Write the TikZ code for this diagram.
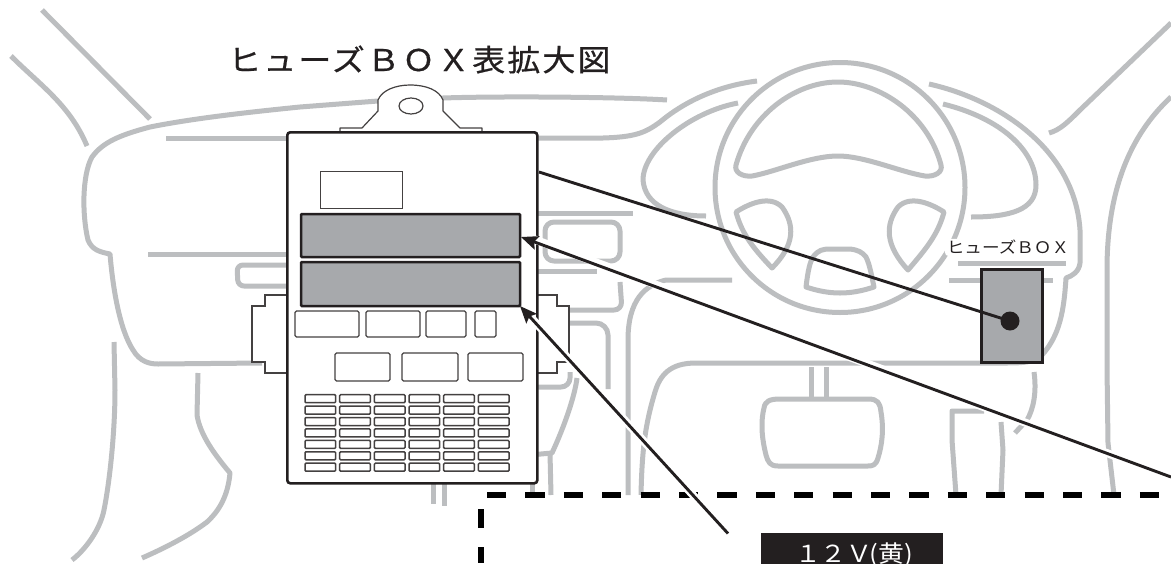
\documentclass[tikz,border=0pt]{standalone}
\usepackage{fontspec}
\usetikzlibrary{arrows.meta}
\newfontfamily\jpwide[FakeStretch=1.1,LetterSpace=7,FakeBold=0.6]{Noto Sans CJK JP}
\newfontfamily\jplabel[FakeStretch=1.1]{Noto Sans CJK JP}
\definecolor{ink}{HTML}{231F20}
\definecolor{dash}{HTML}{BCBEC0}
\definecolor{panel}{HTML}{A7A9AC}
\tikzset{
  x=1pt,y=-1pt,
  car/.style={draw=dash,line width=5pt,line join=round},
  outer/.style={draw=ink,line width=2.6pt,rounded corners=3pt,fill=white},
  thin/.style={draw=ink!85,line width=1.2pt,fill=white},
  slot/.style={draw=ink!85,line width=1.3pt,rounded corners=1.5pt,fill=white},
  mini/.style={draw=ink!85,line width=1.5pt,rounded corners=1pt,fill=white},
  fusepanel/.style={draw=ink,line width=2.5pt,rounded corners=1pt,fill=panel,inner sep=0pt,outer sep=0pt,anchor=north west},
  halo/.style={draw=white,line width=8pt},
  pointer/.style={draw=ink,line width=2.9pt},
  tipped/.style={pointer,{Stealth[length=17pt,width=14pt,inset=3pt]}-},
  blackdash/.style={draw=black,line width=5.4pt,dash pattern=on 19.2pt off 19.2pt},
}
\begin{document}
\begin{tikzpicture}
\useasboundingbox (0,0) rectangle (1171,563);
\clip (0,0) rectangle (1171,563);
\fill[white] (0,0) rectangle (1171,563);
% --- car interior
\draw[car] (42,10) -- (150,119);
\draw[car] (11,56) .. controls (40,85) and (70,105) .. (87,146);
\draw[car] (667,100) .. controls (620,97) and (500,96) .. (443,98) -- (378,101) -- (300,107) .. controls (240,113) and (190,119) .. (150,127) .. controls (120,135) and (103,142) .. (92,157) .. controls (82,175) and (82,215) .. (88,240) .. controls (92,250) and (100,252) .. (110,254) .. controls (113,290) and (120,330) .. (133,350) .. controls (140,362) and (150,364) .. (158,364) -- (262,363);
\draw[car] (166,138) -- (290,138);
\draw[car] (148,254) -- (290,254);
\draw[car,rounded corners=6pt] (300,265) -- (237,265) -- (238,286) -- (300,286);
\draw[car] (114,342) -- (115,390) .. controls (115,430) and (110,480) .. (104,510) .. controls (100,530) and (85,550) .. (72,560);
\draw[car] (198,373) -- (197,415) .. controls (200,435) and (215,455) .. (230,473) .. controls (228,495) and (220,510) .. (207,522) .. controls (190,535) and (165,548) .. (142,558);
\draw[car] (530,138) -- (603,138) .. controls (635,137) and (645,133) .. (660,122) .. controls (690,97) and (725,85) .. (757,81);
\draw[car] (738,103) .. controls (690,112) and (643,150) .. (643,180) .. controls (645,205) and (670,216) .. (706,216);
\draw[car] (929,84) .. controls (1000,100) and (1075,150) .. (1080,230) -- (1080,263) .. controls (1079,272) and (1072,276) .. (1066,278) .. controls (1064,310) and (1060,335) .. (1042,355) .. controls (1035,362) and (1025,363) .. (1006,363) -- (696,363) .. controls (670,363) and (660,375) .. (655,392) .. controls (645,425) and (642,450) .. (641,495);
\draw[car] (943,104) .. controls (1000,118) and (1036,150) .. (1036,185) .. controls (1036,210) and (1010,217) .. (971,217);
\draw[car] (1171,23) -- (1080,110) .. controls (1068,122) and (1060,130) .. (1049,133);
\draw[car] (1171,97) .. controls (1130,135) and (1107,190) .. (1107,270) -- (1107,367) -- (1108,443) -- (1114,495);
% steering wheel
\draw[car] (840,187.5) circle (125pt);
\draw[car] (736,165) .. controls (750,115) and (795,82) .. (838,82) .. controls (880,82) and (928,115) .. (941,165) .. controls (943,172) and (935,177) .. (925,176) .. controls (900,172) and (865,156) .. (838,156) .. controls (810,156) and (775,172) .. (752,176) .. controls (742,177) and (734,172) .. cycle;
\draw[car] (736,212) .. controls (750,203) and (770,195) .. (782,207) .. controls (795,225) and (795,245) .. (772,268) .. controls (755,250) and (742,235) .. cycle;
\draw[car] (944,212) .. controls (930,203) and (910,195) .. (898,207) .. controls (885,225) and (885,245) .. (908,270) .. controls (925,250) and (938,235) .. cycle;
\draw[car] (806,287) .. controls (808,270) and (810,262) .. (813,257) .. controls (818,250) and (823,249) .. (830,249) -- (850,249) .. controls (858,250) and (862,252) .. (866,257) .. controls (870,265) and (872,278) .. (874,287) .. controls (850,295) and (830,295) .. cycle;
% left of the wheel: vents, column
\draw[car] (537,213) -- (633,213);
\draw[car,rounded corners=9pt] (545,222) rectangle (620,261);
\draw[car] (530,271) -- (597,271);
\draw[car,rounded corners=8pt] (620,282) -- (622,310) -- (570,310);
\draw[car,rounded corners=12pt] (565,323) -- (608,323) -- (608,389);
\draw[car] (732,280) -- (666,280) .. controls (645,285) and (628,300) .. (628,340) -- (628,495);
\draw[car,rounded corners=9pt] (530,387) -- (570,387) -- (570,372);
\draw[car] (577,378) .. controls (575,395) and (565,425) .. (552,453) -- (530,455);
\draw[car] (550,453) -- (551,495);
\draw[car] (532,470) -- (532,493);
\draw[car] (433,478) -- (433,504);
\draw[car] (444,478) -- (444,506);
% steering column and cluster
\draw[car] (811.5,367) -- (811.5,399);
\draw[car] (826,367) -- (826,399);
\draw[car] (780,399) -- (868,399) .. controls (878,399) and (880,403) .. (881,412) .. controls (884,430) and (882,445) .. (878,458) .. controls (876,465) and (873,466) .. (868,466) -- (778,466) .. controls (770,466) and (768,462) .. (766,455) .. controls (761,435) and (761,420) .. (764,408) .. controls (765,401) and (770,399) .. cycle;
\draw[car] (984,411) -- (952,411) -- (952,440) -- (956,495);
\draw[car] (1001,422) -- (1003,450) -- (1001,495);
\draw[car] (1034,372) .. controls (1037,393) and (1033,410) .. (1027,420) -- (1015,433);
\draw[car] (958,263) -- (1066,263);
\draw[car] (949,280) -- (1053,280);
% dashed frame
\draw[blackdash] (487,495) -- (1171,495);
\draw[blackdash] (481,509) -- (481,563);
% small fuse box in the car
\node[name=carbox,draw=ink,line width=2.5pt,fill=panel,inner sep=0pt,minimum width=61pt,minimum height=93pt,anchor=north west] at (980,268) {};
\node[name=carlabel,fill=white,rounded corners=4pt,inner xsep=2pt,inner ysep=1.5pt,text=ink,font=\jplabel\fontsize{16}{16}\selectfont] at (1008,247.5) {ヒューズＢＯＸ};
\node[name=dot,circle,fill=ink,inner sep=0pt,minimum size=19pt] at (1010,321) {};
% enlarged box: tab and side lugs
\draw[thin,line width=1.2pt,line join=round] (340,132) -- (340,128) -- (362,128) -- (378,111) -- (378,100) .. controls (382,90) and (396,85) .. (410,85) .. controls (426,85) and (439,90) .. (443,100) -- (443,111) -- (460,128) -- (482,128) -- (482,132);
\draw[thin] (411,106) ellipse [x radius=12pt,y radius=8pt];
\draw[thin] (286,295) -- (265,295) -- (265,306) -- (252,306) -- (252,362) -- (265,362) -- (265,373) -- (286,373);
\draw[thin] (536,295) -- (557,295) -- (557,306) -- (569,306) -- (569,362) -- (557,362) -- (557,373) -- (536,373);
\node[name=fusebody,outer,inner sep=0pt,minimum width=250pt,minimum height=351pt,anchor=north west] at (286,131) {};
\node[name=window,thin,inner sep=0pt,minimum width=82pt,minimum height=37pt,anchor=north west] at (320,171) {};
\node[name=panelA,fusepanel,minimum width=219pt,minimum height=43pt] at (301,214) {};
\node[name=panelB,fusepanel,minimum width=219pt,minimum height=44pt] at (301,262) {};
% relay slots
\foreach \xa/\w in {295/64,366/54,426/40,475/21}
  \draw[slot] (\xa,311) rectangle +(\w,26);
\foreach \xa/\w in {335/55,402/56,468/55}
  \draw[slot] (\xa,353) rectangle +(\w,28);
\foreach \cx in {0,...,5}
  \foreach \ry in {0,...,6}
    \draw[mini] ({305+34.67*\cx},{394.7+11.42*\ry}) rectangle +(30.7,8);
% pointers
\coordinate (pointerstart) at (539,172);
\coordinate (rightend) at (1171,477);
\coordinate (lowerend) at (728,533.5);
\draw[pointer] (pointerstart) -- (dot.center);
\draw[halo] (panelA.east) ++(4,0) -- (rightend);
\draw[halo] (panelB.south east) ++(5,5) -- (lowerend);
\draw[tipped] (panelA.east) ++(1,1.5) -- (rightend);
\draw[tipped] (panelB.south east) -- (lowerend);
% texts
\node[name=title,anchor=west,inner sep=0pt,text=ink,font=\jpwide\fontsize{30}{30}\selectfont] at (228,59.5) {ヒューズＢＯＸ表拡大図};
\node[name=voltbar,fill=ink,inner sep=0pt,minimum width=182pt,minimum height=40pt,anchor=north west] at (761,533) {};
\node[name=volt,anchor=base,inner sep=0pt,text=white,font=\jplabel\fontsize{23.5}{23.5}\selectfont] at (854,562) {１２Ｖ\kern-3pt(黄)};
\end{tikzpicture}
\end{document}
